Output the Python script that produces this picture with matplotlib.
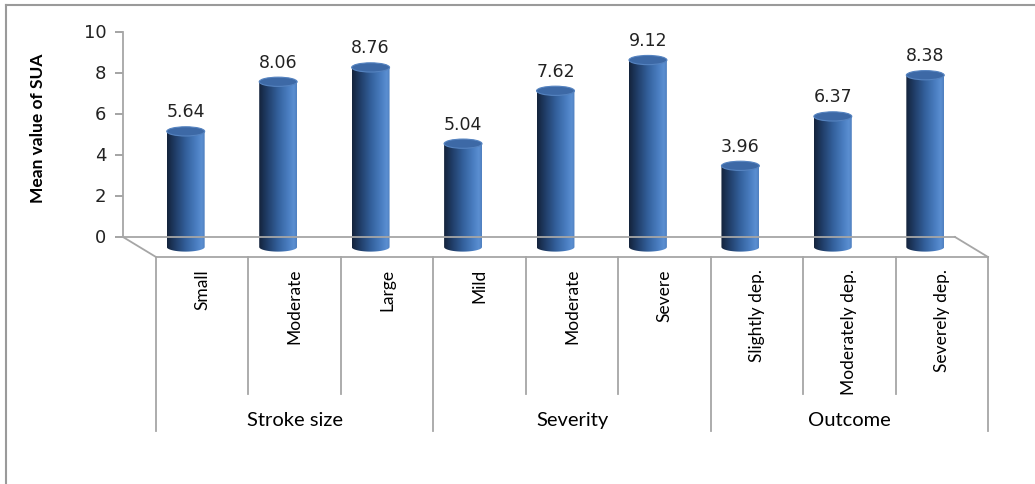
import matplotlib.pyplot as plt
import matplotlib.transforms as mtransforms
from matplotlib.patches import Ellipse, PathPatch
from matplotlib.path import Path
from matplotlib.colors import LinearSegmentedColormap
from matplotlib.lines import Line2D
import numpy as np

categories = ['Small', 'Moderate', 'Large',
              'Mild', 'Moderate', 'Severe',
              'Slightly dep.', 'Moderately dep.', 'Severely dep.']
values = [5.64, 8.06, 8.76, 5.04, 7.62, 9.12, 3.96, 6.37, 8.38]
groups = ['Stroke size', 'Severity', 'Outcome']
group_size = [3, 3, 3]
yticks = [0, 2, 4, 6, 8, 10]

W, H = 1035, 485
fig = plt.figure(figsize=(W / 100, H / 100), dpi=100)

# outer frame of the chart area
fig.add_artist(Line2D([6 / W, 6 / W], [0, 1 - 6 / H], transform=fig.transFigure,
                      color='#9a9a9a', lw=1.5))
fig.add_artist(Line2D([6 / W, 1], [1 - 6 / H, 1 - 6 / H], transform=fig.transFigure,
                      color='#9a9a9a', lw=1.5))

# back plane of the 3D floor: x from 123 to 955 px, y from 238 (0) to 33 (10)
x0, x1 = 123, 955
y0, y1 = 238, 33
ax = fig.add_axes([x0 / W, 1 - y0 / H, (x1 - x0) / W, (y0 - y1) / H])
n = len(values)
ax.set_xlim(-0.5, n - 0.5)
ax.set_ylim(0, 10)
ax.axis('off')

grey = '#a6a6a6'
dx, dy = 33, -20   # depth of the floor in pixels
mid = mtransforms.offset_copy(ax.transData, fig, x=dx / 2, y=dy / 2, units='dots')
front = mtransforms.offset_copy(ax.transData, fig, x=dx, y=dy, units='dots')

# value axis
ax.plot([-0.5, -0.5], [0, 10], color=grey, lw=1.3, clip_on=False)
for t in yticks:
    ax.plot([-0.5, -0.5], [t, t], color=grey, lw=1.3, clip_on=False,
            marker=0, markersize=6, markeredgewidth=1.3)
    ax.annotate(str(t), (-0.5, t), xytext=(-12, 0), textcoords='offset points',
                ha='right', va='center', fontsize=13, color='#222222',
                family='DejaVu Sans')
ax.annotate('Mean value of SUA', (0, 0.5), xycoords=fig.transFigure,
            xytext=(38, H - 128), textcoords='figure pixels',
            rotation=90, ha='center', va='center', fontsize=12.5,
            fontweight='bold', family='Lato')

# floor outline
ax.plot([-0.5, n - 0.5], [0, 0], color=grey, lw=1.3, clip_on=False)
ax.plot([-0.5, n - 0.5], [0, 0], color=grey, lw=1.3, clip_on=False, transform=front)
for xe in (-0.5, n - 0.5):
    p_back = ax.transData.transform((xe, 0))
    p_front = front.transform((xe, 0))
    fig.add_artist(Line2D([p_back[0] / W, p_front[0] / W], [p_back[1] / H, p_front[1] / H],
                          transform=fig.transFigure, color=grey, lw=1.3))

# cylinders
cmap = LinearSegmentedColormap.from_list('cyl', [
    (0.0, '#14233b'), (0.2, '#1f3b64'), (0.5, '#33609c'),
    (0.78, '#4b7fc2'), (0.92, '#5b8fd1'), (1.0, '#4f7fbf')])
grad = np.linspace(0, 1, 256).reshape(1, -1)
bw = 0.41
eh = 0.45   # ellipse height in value units
for i, v in enumerate(values):
    xl, xr = i - bw / 2, i + bw / 2
    t = np.linspace(np.pi, 2 * np.pi, 40)
    bottom = np.column_stack([i + bw / 2 * np.cos(t), eh / 2 * np.sin(t)])
    verts = np.vstack([[[xl, v]], bottom, [[xr, v]], [[xl, v]]])
    clip = PathPatch(Path(verts), transform=mid, facecolor='none', edgecolor='none')
    ax.add_patch(clip)
    im = ax.imshow(grad, cmap=cmap, extent=[xl, xr, -eh, v], aspect='auto',
                   transform=mid, interpolation='bilinear')
    im.set_clip_box(fig.bbox)
    im.set_clip_path(clip)
    ax.add_patch(Ellipse((i, v), bw, eh, transform=mid, facecolor='#3d69a6',
                         edgecolor='#5583c0', lw=0.8, clip_on=False, zorder=3))
    ax.annotate(f'{v:.2f}', (i, v), xycoords=mid, xytext=(0, 8),
                textcoords='offset points', ha='center', va='bottom',
                fontsize=12.5, color='#222222', family='DejaVu Sans')
ax.set_xlim(-0.5, n - 0.5)
ax.set_ylim(0, 10)

# category table below the floor
front_y = front.transform((0, 0))[1]
short_drop = 395 - (H - front_y)
long_drop = 432 - (H - front_y)
bounds = np.cumsum([0] + group_size)
for k in range(n + 1):
    drop = long_drop if k in bounds else short_drop
    px = front.transform((k - 0.5, 0))[0]
    fig.add_artist(Line2D([px / W, px / W], [front_y / H, (front_y - drop) / H],
                          transform=fig.transFigure, color=grey, lw=1.3))
for i, c in enumerate(categories):
    px = front.transform((i, 0))[0]
    fig.text(px / W, (front_y - 11) / H, c, rotation=90, ha='center', va='top',
             fontsize=12.5, family='Lato')
for g, name in enumerate(groups):
    xc = (bounds[g] + bounds[g + 1] - 1) / 2
    px = front.transform((xc, 0))[0]
    fig.text(px / W, 1 - 421 / H, name, ha='center', va='center',
             fontsize=14.5, family='Lato')

fig.savefig('out.png', dpi=100)
